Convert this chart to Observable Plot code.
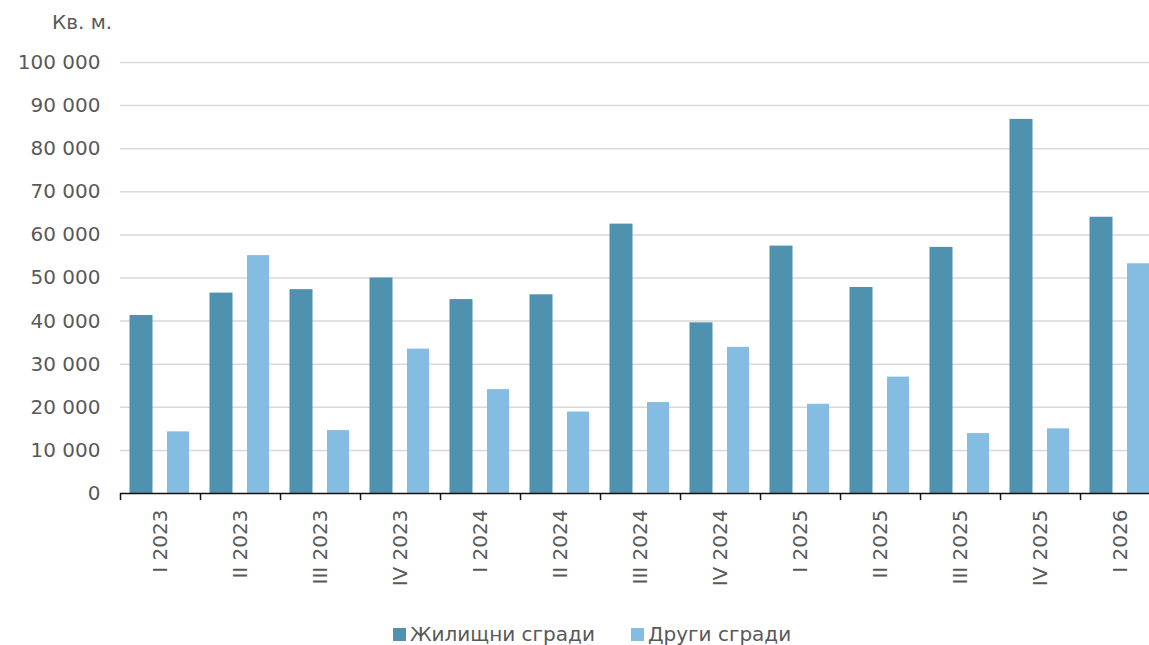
<!DOCTYPE html>
<html>
<head>
<meta charset="utf-8">
<script src="https://cdn.jsdelivr.net/npm/d3@7"></script>
<script src="https://cdn.jsdelivr.net/npm/@observablehq/plot@0.6"></script>
<style>
  html, body { margin: 0; padding: 0; background: #fff; overflow: hidden; width: 1149px; height: 645px; }
  body { font-family: "DejaVu Sans", Verdana, sans-serif; color: #595959; }
  #title { height: 40px; font-size: 20px; padding-left: 52px; box-sizing: border-box; padding-top: 10px; line-height: 24px; }
  #chart svg { display: block; max-width: none !important; }
  #legend { display: flex; align-items: center; font-size: 20px; line-height: 24px; padding-left: 393px; margin-top: 29px; }
  #legend .item { display: flex; align-items: center; margin-right: 36px; }
  #legend .sw { width: 13px; height: 13px; margin-right: 4px; }
</style>
</head>
<body>
<div id="title">Кв. м.</div>
<div id="chart"></div>
<div id="legend"></div>
<script>
const categories = ["I 2023","II 2023","III 2023","IV 2023","I 2024","II 2024","III 2024","IV 2024","I 2025","II 2025","III 2025","IV 2025","I 2026"];
const residential = [41300, 46500, 47300, 50000, 45000, 46100, 62500, 39600, 57400, 47800, 57100, 86800, 64100];
const other = [14300, 55200, 14600, 33500, 24100, 18900, 21100, 33900, 20700, 27000, 13900, 15000, 53300];
const seriesNames = ["Жилищни сгради", "Други сгради"];
const seriesColors = ["#4f92b0", "#85bde2"];
const yTicks = [0, 10000, 20000, 30000, 40000, 50000, 60000, 70000, 80000, 90000, 100000];

const resData = categories.map((c, i) => ({cat: c, value: residential[i], series: seriesNames[0]}));
const othData = categories.map((c, i) => ({cat: c, value: other[i], series: seriesNames[1]}));
const fmt = d => d3.format(",")(d).replace(/,/g, " ");

const plot = Plot.plot({
  width: 1160,
  height: 553,
  marginTop: 22,
  marginLeft: 120,
  marginRight: 0,
  marginBottom: 100,
  style: {fontFamily: "DejaVu Sans, Verdana, sans-serif", fontSize: "20px", color: "#595959", background: "#fff", maxWidth: "none"},
  x: {type: "band", domain: categories, padding: 0},
  y: {domain: [0, 100000]},
  color: {domain: seriesNames, range: seriesColors},
  marks: [
    Plot.ruleY(yTicks.filter(d => d > 0), {stroke: "#d9d9d9", strokeWidth: 1.5}),
    Plot.axisY(yTicks, {tickSize: 0, tickPadding: 20, tickFormat: fmt, fontSize: 20, fill: "#595959", label: null}),
    Plot.axisX({tickSize: 0, tickPadding: 16, tickRotate: -90, fontSize: 20, fill: "#595959", label: null}),
    Plot.barY(resData, {x: "cat", y: "value", fill: "series", insetLeft: 9.5, insetRight: 47.5}),
    Plot.barY(othData, {x: "cat", y: "value", fill: "series", insetLeft: 47, insetRight: 11}),
    Plot.ruleY([0], {stroke: "#111", strokeWidth: 1.5}),
    Plot.ruleX(categories, {x: d => d, dx: -40, y1: 0, y2: 0, insetBottom: -7, stroke: "#111", strokeWidth: 1.5})
  ]
});
document.getElementById("chart").appendChild(plot);

const colorScale = plot.scale("color");
const legend = document.getElementById("legend");
colorScale.domain.forEach((name, i) => {
  const item = document.createElement("div");
  item.className = "item";
  const sw = document.createElement("div");
  sw.className = "sw";
  sw.style.background = colorScale.range[i];
  const t = document.createElement("span");
  t.textContent = name;
  item.appendChild(sw);
  item.appendChild(t);
  legend.appendChild(item);
});
</script>
</body>
</html>
